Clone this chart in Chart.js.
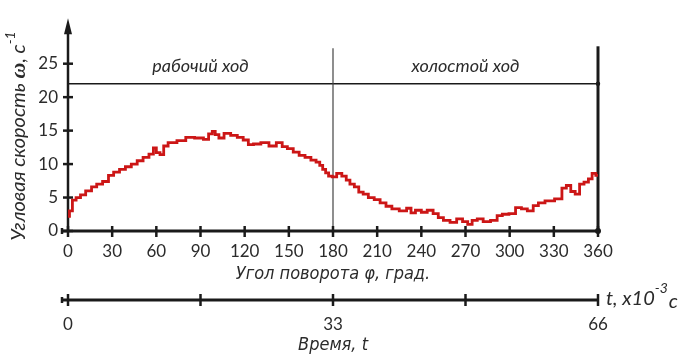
<!DOCTYPE html>
<html>
<head>
<meta charset="utf-8">
<script src="https://cdn.jsdelivr.net/npm/chart.js@4"></script>
<style>
  html, body { margin: 0; padding: 0; background: #fff; }
  #wrap { width: 682px; height: 361px; }
</style>
</head>
<body>
<div id="wrap"><canvas id="chart"></canvas></div>
<script>
// angle of rotation, degrees, and angular speed
const angleDeg = [0, 2, 4, 7, 10, 14, 18, 21, 26, 29, 33, 37, 41, 45, 49, 53, 57, 59, 61, 64,
  66, 70, 78, 82, 90, 94, 97, 99, 101, 104, 108, 113, 117, 121, 124, 128, 134, 139, 144, 147,
  151, 155, 159, 163, 167, 170, 172, 174, 176, 178, 181, 184, 188, 190, 193, 196, 199, 202, 206, 210,
  214, 218, 222, 228, 232, 234, 238, 242, 246, 250, 253, 257, 262, 266, 270, 273, 276, 280, 284, 290,
  293, 297, 302, 306, 310, 314, 318, 321, 327, 334, 337, 340, 343, 346, 349, 352, 355, 357, 360];
const omega = [2.2, 3.0, 4.6, 5.0, 5.4, 6.0, 6.6, 7.0, 7.4, 8.3, 8.8, 9.2, 9.6, 10.0, 10.5, 11.0, 11.5, 12.4, 11.7, 11.4,
  12.7, 13.2, 13.5, 14.0, 13.9, 13.7, 14.5, 14.9, 14.4, 13.9, 14.6, 14.3, 14.0, 13.6, 12.9, 13.0, 13.2, 12.7, 13.2, 12.6,
  12.3, 11.8, 11.3, 11.0, 10.6, 10.3, 9.8, 9.2, 8.7, 8.2, 8.1, 8.6, 8.2, 7.6, 7.0, 6.6, 5.8, 5.5, 5.0, 4.7,
  4.2, 3.7, 3.3, 3.0, 3.4, 2.7, 3.1, 2.8, 3.1, 2.6, 2.0, 1.6, 1.3, 1.8, 1.4, 1.0, 1.6, 1.8, 1.4, 1.6,
  2.3, 2.5, 2.6, 3.5, 3.3, 3.0, 3.8, 4.2, 4.5, 4.8, 6.4, 6.8, 5.9, 5.5, 7.0, 7.3, 7.8, 8.6, 8.3];

const angleTicks = [0, 30, 60, 90, 120, 150, 180, 210, 240, 270, 300, 330, 360];
const omegaTicks = [0, 5, 10, 15, 20, 25];
const timeTicks = [0, 33, 66];
const timeMarks = [0, 16.5, 33, 49.5, 66];
const phaseNames = ['рабочий ход', 'холостой ход'];
const phaseCenters = [90, 270];
const phaseBoundary = 180;
const levelOmega = 22;

const NARROW = "'Liberation Sans Narrow', 'DejaVu Sans Condensed', Arial, sans-serif";
const ROUND = "Lato, 'Open Sans', sans-serif";
const INK = '#1a1a1a';
const LABEL = '#2b2b2b';

function seg(ctx, x1, y1, x2, y2) {
  ctx.beginPath(); ctx.moveTo(x1, y1); ctx.lineTo(x2, y2); ctx.stroke();
}

const decor = {
  id: 'decor',
  beforeDatasetsDraw(chart) {
    const ctx = chart.ctx;
    const x = chart.scales.x, y = chart.scales.y, x2 = chart.scales.x2;
    const x0 = x.getPixelForValue(0), xe = x.getPixelForValue(360);
    const y0 = y.getPixelForValue(0);
    ctx.save();
    ctx.strokeStyle = INK; ctx.fillStyle = INK;

    // level line and phase boundary
    ctx.lineWidth = 1.5;
    const yl = y.getPixelForValue(levelOmega);
    seg(ctx, x0, yl, xe, yl);
    ctx.lineWidth = 1.2; ctx.strokeStyle = '#444';
    const xb = x.getPixelForValue(phaseBoundary);
    seg(ctx, xb, y.getPixelForValue(27.3), xb, y0);
    ctx.strokeStyle = INK;
    ctx.lineWidth = 3;
    seg(ctx, xe, y.getPixelForValue(27.6), xe, y0);
    ctx.beginPath(); ctx.arc(xe, yl, 2.2, 0, Math.PI * 2); ctx.fill();

    // y axis with arrow
    const top = chart.chartArea.top;
    ctx.lineWidth = 2.5;
    seg(ctx, x0, y0, x0, top + 10);
    ctx.beginPath();
    ctx.moveTo(x0, top - 2); ctx.lineTo(x0 - 4, top + 14); ctx.lineTo(x0 + 4, top + 14);
    ctx.closePath(); ctx.fill();
    omegaTicks.forEach(v => { const p = y.getPixelForValue(v); seg(ctx, x0 - 5, p, x0 + 5, p); });

    // angle axis
    ctx.lineWidth = 3;
    seg(ctx, x0 - 6, y0, xe, y0);
    ctx.lineWidth = 2.5;
    angleTicks.forEach(v => { const p = x.getPixelForValue(v); seg(ctx, p, y0 - 5, p, y0 + 6); });
    seg(ctx, x0 - 6, y0 - 3, x0 - 6, y0 + 3);
    ctx.beginPath(); ctx.arc(xe, y0, 3, 0, Math.PI * 2); ctx.fill();

    // time axis
    const ty = x2.top;
    ctx.lineWidth = 3;
    seg(ctx, x0 - 6, ty, xe, ty);
    ctx.lineWidth = 2.5;
    timeMarks.forEach(v => { const p = x2.getPixelForValue(v); seg(ctx, p, ty - 6, p, ty + 6); });
    seg(ctx, x0 - 6, ty - 3, x0 - 6, ty + 3);

    // phase names
    ctx.fillStyle = LABEL;
    ctx.font = 'italic 18px ' + ROUND;
    ctx.textAlign = 'center'; ctx.textBaseline = 'middle';
    phaseNames.forEach((t, i) => {
      ctx.fillText(t, x.getPixelForValue(phaseCenters[i]), y.getPixelForValue(24.7));
    });

    // y title, rotated
    ctx.save();
    ctx.translate(19, 136);
    ctx.rotate(-Math.PI / 2);
    ctx.textBaseline = 'middle';
    const parts = [
      ['Угловая скорость ', 'italic 20px ' + ROUND, 0],
      ['ω', 'italic bold 22px serif', 0],
      [', с', 'italic 20px ' + ROUND, 0],
      ['-1', 'italic 14px ' + ROUND, -9]
    ];
    let w = 0;
    parts.forEach(p => { ctx.font = p[1]; w += ctx.measureText(p[0]).width; });
    let cx = -w / 2;
    ctx.textAlign = 'left';
    parts.forEach(p => { ctx.font = p[1]; ctx.fillText(p[0], cx, p[2]); cx += ctx.measureText(p[0]).width; });
    ctx.restore();

    // time unit
    ctx.textAlign = 'left'; ctx.textBaseline = 'alphabetic';
    let ux = xe + 8;
    ctx.font = 'italic 20px ' + ROUND;
    ctx.fillText('t, x10', ux, ty + 5); ux += ctx.measureText('t, x10').width;
    ctx.font = 'italic 14px ' + ROUND;
    ctx.fillText('-3', ux, ty - 7); ux += ctx.measureText('-3').width + 1;
    ctx.font = 'italic 20px ' + ROUND;
    ctx.fillText('c', ux, ty + 8);
    ctx.restore();
  }
};

const tickFont = { family: ROUND, size: 17 };
const titleFont = { family: NARROW, size: 18, style: 'italic' };

new Chart(document.getElementById('chart'), {
  type: 'line',
  data: {
    datasets: [{
      data: angleDeg.map((a, i) => ({ x: a, y: omega[i] })),
      borderColor: '#cc1616',
      borderWidth: 2.8,
      pointRadius: 0,
      stepped: 'middle',
      fill: false
    }]
  },
  options: {
    responsive: true,
    maintainAspectRatio: false,
    animation: false,
    layout: { padding: { left: 0, right: 84, top: 10, bottom: 0 } },
    plugins: { legend: { display: false }, tooltip: { enabled: false } },
    scales: {
      x: {
        type: 'linear', position: 'bottom', weight: 1, min: 0, max: 360,
        grid: { display: false, drawTicks: false }, border: { display: false },
        afterBuildTicks: s => { s.ticks = angleTicks.map(v => ({ value: v })); },
        ticks: { padding: 10, font: tickFont, color: LABEL, maxRotation: 0, autoSkip: false },
        title: { display: true, text: 'Угол поворота φ, град.', font: titleFont, color: LABEL, padding: { top: 15, bottom: 15 } },
        afterFit: s => { s.height = 69; }
      },
      x2: {
        type: 'linear', position: 'bottom', weight: 2, min: 0, max: 66,
        grid: { display: false, drawTicks: false }, border: { display: false },
        afterBuildTicks: s => { s.ticks = timeTicks.map(v => ({ value: v })); },
        ticks: { padding: 14, font: tickFont, color: LABEL, maxRotation: 0, autoSkip: false },
        title: { display: true, text: 'Время, t', font: titleFont, color: LABEL, padding: { top: 5, bottom: 5 } },
        afterFit: s => { s.height = 61; }
      },
      y: {
        min: 0, max: 31.5,
        grid: { display: false, drawTicks: false }, border: { display: false },
        afterBuildTicks: s => { s.ticks = omegaTicks.map(v => ({ value: v })); },
        ticks: { padding: 10, font: tickFont, color: LABEL },
        afterFit: s => { s.width = 68; }
      }
    }
  },
  plugins: [decor]
});
</script>
</body>
</html>
